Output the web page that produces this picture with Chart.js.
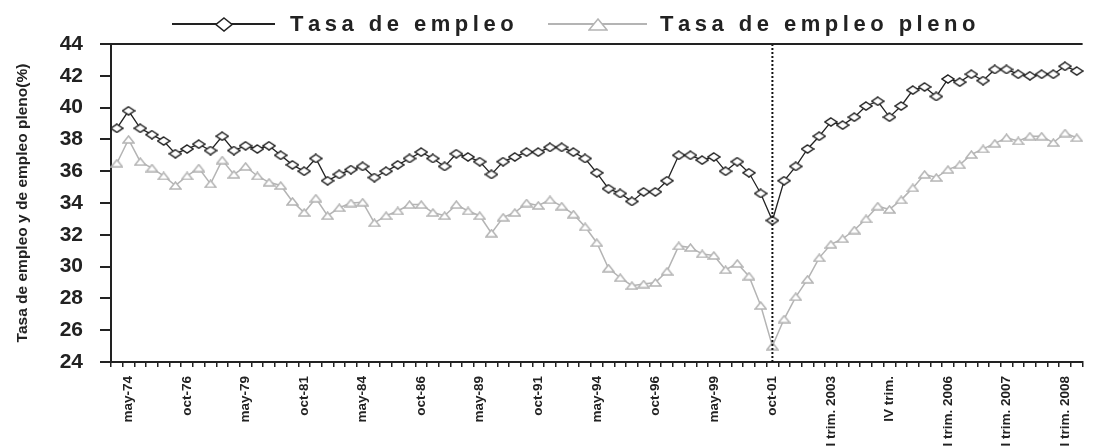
<!DOCTYPE html>
<html>
<head>
<meta charset="utf-8">
<script src="https://cdn.jsdelivr.net/npm/chart.js@4.4.1/dist/chart.umd.min.js"></script>
<style>
  html, body { margin: 0; padding: 0; background: #fff; overflow: hidden; }
  #wrap { width: 1102px; height: 520px; }
</style>
</head>
<body>
<div id="wrap"><canvas id="chart" width="1102" height="520"></canvas></div>
<script>
// labels shown every 5th period, starting at the 2nd point
const tickLabels = ['may-74', 'oct-76', 'may-79', 'oct-81', 'may-84', 'oct-86', 'may-89', 'oct-91',
  'may-94', 'oct-96', 'may-99', 'oct-01', 'III trim. 2003', 'IV trim.', 'I trim. 2006',
  'II trim. 2007', 'III trim. 2008'];

const tasaEmpleo = [38.7, 39.8, 38.7, 38.3, 37.9, 37.1, 37.4, 37.7, 37.3, 38.2,
  37.3, 37.6, 37.4, 37.6, 37.0, 36.4, 36.0, 36.8, 35.4, 35.8,
  36.1, 36.3, 35.6, 36.0, 36.4, 36.8, 37.2, 36.8, 36.3, 37.1,
  36.9, 36.6, 35.8, 36.6, 36.9, 37.2, 37.2, 37.5, 37.5, 37.2,
  36.8, 35.9, 34.9, 34.6, 34.1, 34.7, 34.7, 35.4, 37.0, 37.0,
  36.7, 36.9, 36.0, 36.6, 35.9, 34.6, 32.9, 35.4, 36.3, 37.4,
  38.2, 39.1, 38.9, 39.4, 40.1, 40.4, 39.4, 40.1, 41.1, 41.3,
  40.7, 41.8, 41.6, 42.1, 41.7, 42.4, 42.4, 42.1, 42.0, 42.1,
  42.1, 42.6, 42.3];

const tasaEmpleoPleno = [36.5, 38.0, 36.6, 36.2, 35.7, 35.1, 35.7, 36.2, 35.2, 36.7,
  35.8, 36.3, 35.7, 35.3, 35.1, 34.1, 33.4, 34.3, 33.2, 33.7,
  34.0, 34.05, 32.75, 33.2, 33.5, 33.9, 33.9, 33.4, 33.2, 33.9,
  33.5, 33.2, 32.1, 33.1, 33.4, 34.0, 33.85, 34.2, 33.8, 33.3,
  32.5, 31.5, 29.9, 29.3, 28.8, 28.9, 29.0, 29.7, 31.3, 31.2,
  30.8, 30.7, 29.8, 30.2, 29.4, 27.55, 25.0, 26.7, 28.1, 29.2,
  30.55, 31.4, 31.75, 32.3, 33.0, 33.8, 33.6, 34.2, 34.95, 35.8,
  35.6, 36.1, 36.4, 37.05, 37.4, 37.75, 38.1, 37.9, 38.2, 38.2,
  37.8, 38.4, 38.1];

const seriesNames = ['Tasa de empleo', 'Tasa de empleo pleno'];
const yTitle = 'Tasa de empleo y de empleo pleno(%)';

const categories = tasaEmpleo.map((_, i) => {
  const k = (i - 1) / 5;
  return Number.isInteger(k) && tickLabels[k] ? tickLabels[k] : '';
});
const breakIndex = categories.indexOf('oct-01');

const DARK = '#222';
const GREY = '#b4b4b4';
const sans = "'Liberation Sans', Arial, sans-serif";

function marker(shape, w, h, color) {
  const c = document.createElement('canvas');
  c.width = w; c.height = h;
  const g = c.getContext('2d');
  g.beginPath();
  if (shape === 'diamond') {
    g.moveTo(w / 2, 1); g.lineTo(w - 1, h / 2); g.lineTo(w / 2, h - 1); g.lineTo(1, h / 2);
  } else {
    g.moveTo(w / 2, 1); g.lineTo(w - 1, h - 1); g.lineTo(1, h - 1);
  }
  g.closePath();
  g.fillStyle = '#fff';
  g.fill();
  g.lineWidth = 1.5;
  g.strokeStyle = color;
  g.stroke();
  return c;
}

function spacedText(ctx, text, x, y, spacing) {
  for (const ch of text) {
    ctx.fillText(ch, x, y);
    x += ctx.measureText(ch).width + spacing;
  }
}

const frame = {
  id: 'frame',
  afterDatasetsDraw(chart) {
    const { ctx, chartArea } = chart;
    const x = chart.scales.x.getPixelForValue(breakIndex);
    ctx.save();
    ctx.strokeStyle = '#111';
    ctx.lineWidth = 2;
    ctx.setLineDash([2, 2]);
    ctx.beginPath();
    ctx.moveTo(x, chartArea.top);
    ctx.lineTo(x, chartArea.bottom);
    ctx.stroke();
    ctx.setLineDash([]);
    ctx.strokeStyle = DARK;
    ctx.beginPath();
    ctx.moveTo(chartArea.left - 11, chartArea.top);
    ctx.lineTo(chartArea.right, chartArea.top);
    ctx.stroke();
    ctx.restore();
  },
  afterDraw(chart) {
    const ctx = chart.ctx;
    const items = [
      { x1: 172, x2: 275, shape: 'diamond', mw: 18, mh: 15, color: DARK, tx: 290 },
      { x1: 548, x2: 647, shape: 'triangle', mw: 20, mh: 13, color: GREY, tx: 660 }
    ];
    const y = 24;
    ctx.save();
    items.forEach((it, i) => {
      ctx.strokeStyle = it.color;
      ctx.lineWidth = 2;
      ctx.beginPath();
      ctx.moveTo(it.x1, y);
      ctx.lineTo(it.x2, y);
      ctx.stroke();
      const m = marker(it.shape, it.mw, it.mh, it.color);
      ctx.drawImage(m, Math.round((it.x1 + it.x2) / 2 - it.mw / 2), Math.round(y - it.mh / 2));
      ctx.fillStyle = DARK;
      ctx.font = 'bold 22px ' + sans;
      ctx.textBaseline = 'alphabetic';
      spacedText(ctx, seriesNames[i], it.tx, 31, 4.5);
    });
    ctx.restore();
  }
};

new Chart(document.getElementById('chart'), {
  type: 'line',
  data: {
    labels: categories,
    datasets: [
      {
        label: seriesNames[0],
        data: tasaEmpleo,
        borderColor: DARK,
        borderWidth: 1.3,
        pointStyle: marker('diamond', 14, 10, DARK),
        pointRadius: 5,
        tension: 0
      },
      {
        label: seriesNames[1],
        data: tasaEmpleoPleno,
        borderColor: GREY,
        borderWidth: 1.5,
        pointStyle: marker('triangle', 13, 9, GREY),
        pointRadius: 5,
        tension: 0
      }
    ]
  },
  options: {
    responsive: false,
    animation: false,
    layout: { padding: { top: 44, right: 0, bottom: 0, left: 0 } },
    plugins: {
      legend: { display: false },
      tooltip: { enabled: false }
    },
    scales: {
      x: {
        offset: true,
        afterFit: s => { s.height = 158; },
        grid: { offset: true, drawOnChartArea: false, tickLength: 5, color: DARK, lineWidth: 1.5 },
        border: { color: DARK, width: 2 },
        ticks: {
          autoSkip: false,
          maxRotation: 90,
          minRotation: 90,
          padding: 9,
          color: DARK,
          font: { family: sans, size: 13.5, weight: 'bold' }
        }
      },
      y: {
        min: 24,
        max: 44,
        afterFit: s => { s.width = 111; },
        grid: { drawOnChartArea: false, tickLength: 11, color: DARK, lineWidth: 2 },
        border: { color: DARK, width: 2 },
        ticks: {
          stepSize: 2,
          padding: 17,
          color: DARK,
          font: { family: sans, size: 21, weight: 'bold' }
        },
        title: {
          display: true,
          text: yTitle,
          color: DARK,
          padding: { top: 13, bottom: 0 },
          font: { family: sans, size: 15.5, weight: 'bold' }
        }
      }
    }
  },
  plugins: [frame]
});
</script>
</body>
</html>
